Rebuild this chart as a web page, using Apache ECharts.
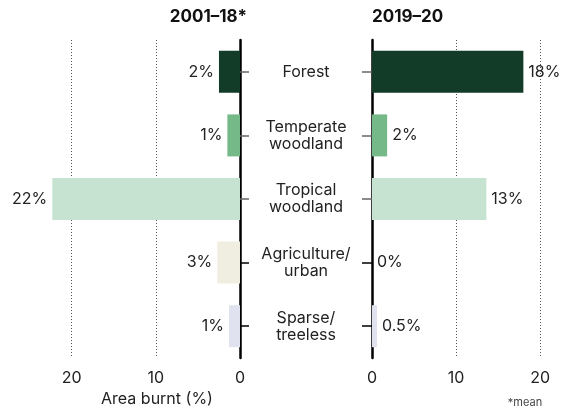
<!DOCTYPE html>
<html>
<head>
<meta charset="utf-8">
<script src="https://cdn.jsdelivr.net/npm/echarts@6/dist/echarts.min.js"></script>
<style>html,body{margin:0;padding:0;background:#fff}#c{width:572px;height:409px}</style>
</head>
<body>
<div id="c"></div>
<script>
const categories = ['Forest', 'Temperate\nwoodland', 'Tropical\nwoodland', 'Agriculture/\nurban', 'Sparse/\ntreeless'];
const values2001_18 = [2.5, 1.5, 22.3, 2.7, 1.3];
const labels2001_18 = ['2%', '1%', '22%', '3%', '1%'];
const values2019_20 = [18, 1.8, 13.6, 0, 0.6];
const labels2019_20 = ['18%', '2%', '13%', '0%', '0.5%'];
const barColors = ['#123b28', '#74b987', '#c6e3d2', '#f0eee0', '#e0e2ef'];
const titleLeft = '2001–18*';
const titleRight = '2019–20';
const axisName = 'Area burnt (%)';
const footnote = '*mean';

const FONT = 'Inter';
const TXT = '#222';
const FS = 16;
const chart = echarts.init(document.getElementById('c'), null, {renderer: 'canvas'});

const GT = 40, GH = 318;
function mk(vals) { return vals.map((v, i) => ({value: v, itemStyle: {color: barColors[i]}})); }
const xCommon = {
  type: 'value', min: 0, interval: 10,
  axisLine: {show: false}, axisTick: {show: false},
  axisLabel: {color: TXT, fontSize: FS, fontFamily: FONT, margin: 12, showMaxLabel: false},
  splitLine: {show: true, showMinLine: false, showMaxLine: false, lineStyle: {color: '#555', type: [1, 2], width: 1}}
};
const grayTick = (i) => i < 3;
const blackTick = (i) => i >= 3;
const option = {
  animation: false,
  grid: [
    {left: 38, width: 202, top: GT, height: GH},
    {left: 372, width: 185, top: GT, height: GH},
    {left: 38, width: 202, top: GT, height: GH},
    {left: 372, width: 185, top: GT, height: GH}
  ],
  xAxis: [
    Object.assign({}, xCommon, {gridIndex: 0, max: 24, inverse: true}),
    Object.assign({}, xCommon, {gridIndex: 1, max: 22}),
    {type: 'value', gridIndex: 2, min: 0, max: 24, inverse: true, show: false},
    {type: 'value', gridIndex: 3, min: 0, max: 22, show: false}
  ],
  yAxis: [
    {type: 'category', gridIndex: 0, data: categories, inverse: true, position: 'right',
     axisLine: {show: true, lineStyle: {color: '#000', width: 2.5}},
     axisTick: {show: true, alignWithLabel: true, length: 9, interval: grayTick, lineStyle: {color: '#666', width: 1.5}},
     axisLabel: {align: 'center', margin: 66, color: TXT, fontSize: FS, fontFamily: FONT, lineHeight: 17}},
    {type: 'category', gridIndex: 1, data: categories, inverse: true, position: 'left',
     axisLine: {show: true, lineStyle: {color: '#000', width: 2.5}},
     axisTick: {show: true, alignWithLabel: true, length: 10, interval: grayTick, lineStyle: {color: '#666', width: 1.5}},
     axisLabel: {show: false}},
    {type: 'category', gridIndex: 2, data: categories, inverse: true, position: 'right',
     axisLine: {show: false},
     axisTick: {show: true, alignWithLabel: true, length: 9, interval: blackTick, lineStyle: {color: '#000', width: 1.5}},
     axisLabel: {show: false}, splitLine: {show: false}},
    {type: 'category', gridIndex: 3, data: categories, inverse: true, position: 'left',
     axisLine: {show: false},
     axisTick: {show: true, alignWithLabel: true, length: 10, interval: blackTick, lineStyle: {color: '#000', width: 1.5}},
     axisLabel: {show: false}, splitLine: {show: false}}
  ],
  series: [
    {type: 'bar', xAxisIndex: 0, yAxisIndex: 0, data: mk(values2001_18), barWidth: 42,
     label: {show: true, position: 'left', distance: 5, color: TXT, fontSize: FS, fontFamily: FONT,
             formatter: p => labels2001_18[p.dataIndex]}},
    {type: 'bar', xAxisIndex: 1, yAxisIndex: 1, data: mk(values2019_20), barWidth: 42,
     label: {show: true, position: 'right', distance: 5, color: TXT, fontSize: FS, fontFamily: FONT,
             formatter: p => labels2019_20[p.dataIndex]}}
  ],
  graphic: [
    {type: 'text', right: 572 - 247, top: 8, style: {text: titleLeft, font: 'bold 17px ' + FONT, fill: '#111'}},
    {type: 'text', left: 372, top: 8, style: {text: titleRight, font: 'bold 17px ' + FONT, fill: '#111'}},
    {type: 'text', x: 157, y: 399, style: {text: axisName, font: FS + 'px ' + FONT, fill: TXT, align: 'center', verticalAlign: 'middle'}},
    {type: 'text', x: 525, y: 403, style: {text: footnote, font: '11px ' + FONT, fill: '#444', align: 'center', verticalAlign: 'middle'}}
  ]
};
chart.setOption(option);
</script>
</body>
</html>
